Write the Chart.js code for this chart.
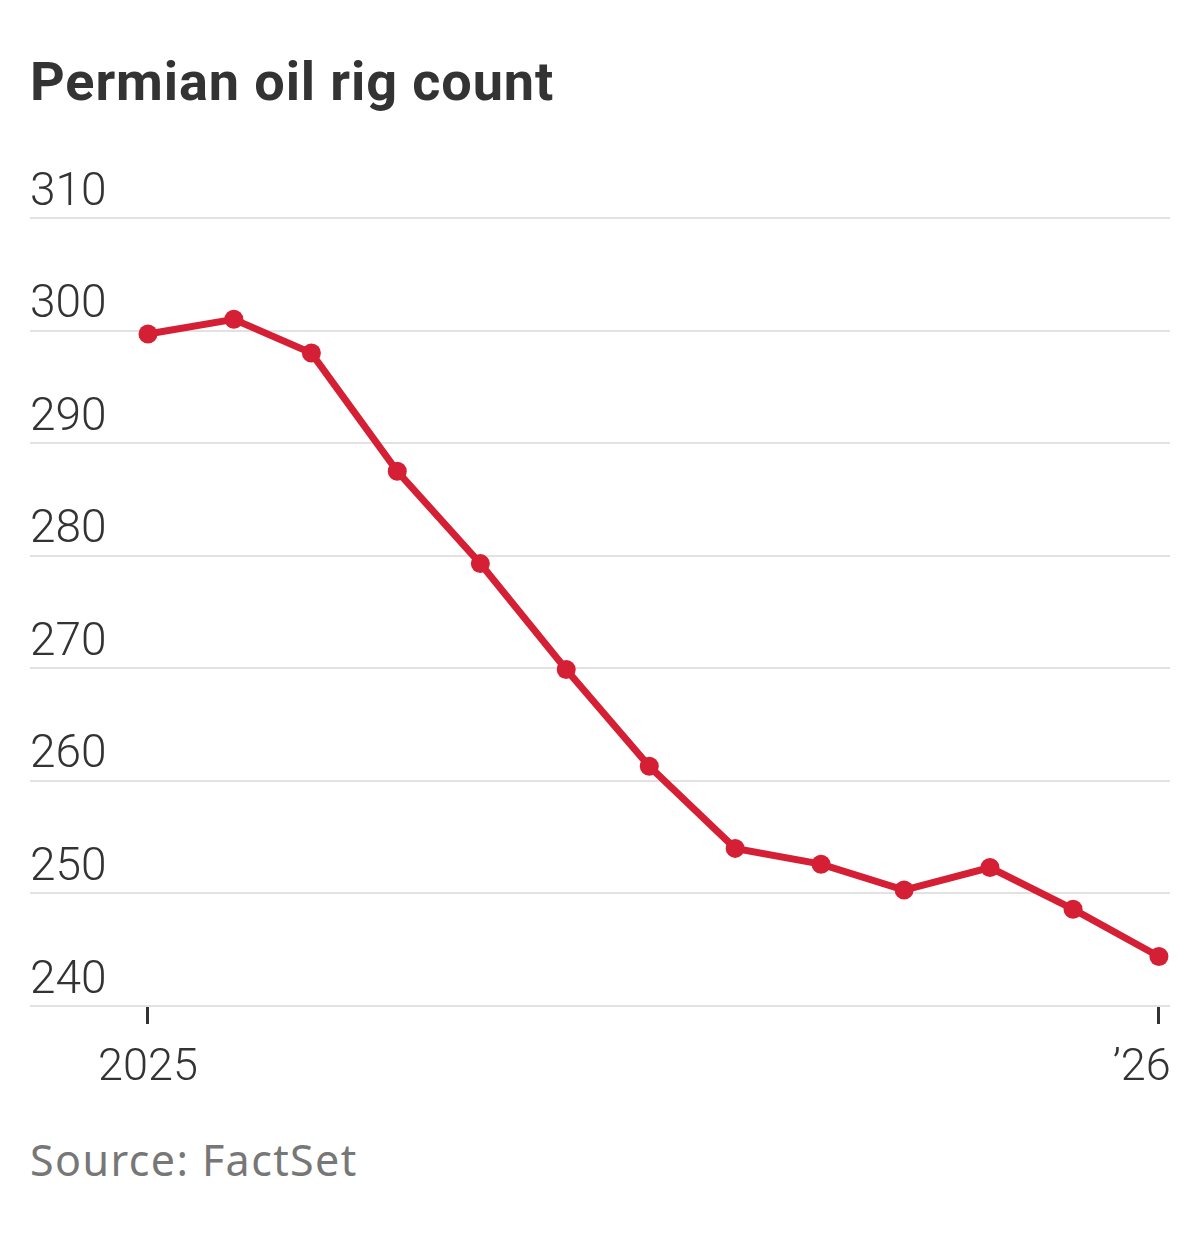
<!DOCTYPE html>
<html>
<head>
<meta charset="utf-8">
<script src="https://cdn.jsdelivr.net/npm/chart.js@4.4.1/dist/chart.umd.min.js"></script>
<style>
    body { margin: 0; background: #fff; width: 1200px; height: 1245px; position: relative; overflow: hidden; }
    .title { position: absolute; left: 30px; top: 50px; font-family: Roboto, sans-serif; font-weight: 700; font-size: 54px; color: #333; letter-spacing: 0.9px; }
    .chart-box { position: absolute; left: 0; top: 150px; width: 1200px; height: 950px; }
    .source { position: absolute; left: 30px; top: 1130px; font-family: "Noto Sans", sans-serif; font-size: 43px; color: #777; letter-spacing: 1.4px; }
</style>
</head>
<body>
<div class="title">Permian oil rig count</div>
<div class="chart-box"><canvas id="rigChart"></canvas></div>
<div class="source">Source: FactSet</div>

<script>
    // Monthly readings, Jan 2025 to Jan 2026
    const dates = ["2025-01-01", "2025-02-01", "2025-03-01", "2025-04-01", "2025-05-01", "2025-06-01", "2025-07-01",
        "2025-08-01", "2025-09-01", "2025-10-01", "2025-11-01", "2025-12-01", "2026-01-01"];
    const rigCounts = [299.7, 301.0, 298.0, 287.5, 279.3, 269.9, 261.3, 254.0, 252.6, 250.3, 252.3, 248.6, 244.4];
    const yTicks = [240, 250, 260, 270, 280, 290, 300, 310];
    const xTickDates = ["2025-01-01", "2026-01-01"];
    const xTickLabels = ["2025", "\u201926"];

    // days since Jan 1 2025
    const dayOf = (d) => (Date.parse(d) - Date.parse("2025-01-01")) / 86400000;

    const points = dates.map((d, i) => ({x: dayOf(d), y: rigCounts[i]}));
    const xTickValues = xTickDates.map(dayOf);

    const ctx = document.getElementById("rigChart").getContext("2d");

    new Chart(ctx, {
        type: "line",
        data: {
            datasets: [
                {
                    data: points,
                    borderColor: "#d51f35",
                    backgroundColor: "#d51f35",
                    borderWidth: 7,
                    pointRadius: 9.5,
                    pointBorderWidth: 0,
                    tension: 0,
                },
            ],
        },
        options: {
            responsive: true,
            maintainAspectRatio: false,
            animation: false,
            layout: {
                padding: {left: 30, right: 30, top: 68, bottom: 0},
            },
            plugins: {
                legend: {display: false},
                tooltip: {enabled: false},
            },
            scales: {
                x: {
                    type: "linear",
                    min: -42.6,
                    max: 369,
                    afterBuildTicks: (scale) => {
                        scale.ticks = xTickValues.map((v) => ({value: v}));
                    },
                    afterFit: (scale) => {
                        scale.height = 94;
                        // labels may run past the plot edge, keep the plot full width
                        scale.paddingLeft = 0;
                        scale.paddingRight = 0;
                    },
                    border: {display: false},
                    grid: {
                        drawOnChartArea: false,
                        drawTicks: true,
                        tickLength: 18,
                        tickWidth: 3,
                        tickColor: "#333",
                    },
                    ticks: {
                        autoSkip: false,
                        maxRotation: 0,
                        padding: 18,
                        color: "#333",
                        font: {family: "Roboto", size: 45, weight: 300},
                        callback: (value) => {
                            const i = xTickValues.indexOf(value);
                            // last label sits a little left of its tick, as in print
                            return i === xTickLabels.length - 1 ? xTickLabels[i] + "\u2007\u2009" : xTickLabels[i];
                        },
                    },
                },
                y: {
                    min: 240,
                    max: 310,
                    afterBuildTicks: (scale) => {
                        scale.ticks = yTicks.map((v) => ({value: v}));
                    },
                    afterFit: (scale) => {
                        scale.width = 0;
                    },
                    border: {display: false},
                    grid: {
                        color: "#e2e2e2",
                        lineWidth: 2,
                        drawTicks: false,
                    },
                    ticks: {
                        mirror: true,
                        padding: 0,
                        labelOffset: -25,
                        color: "#333",
                        font: {family: "Roboto", size: 46, weight: 300},
                    },
                },
            },
        },
    });
</script>
</body>
</html>
